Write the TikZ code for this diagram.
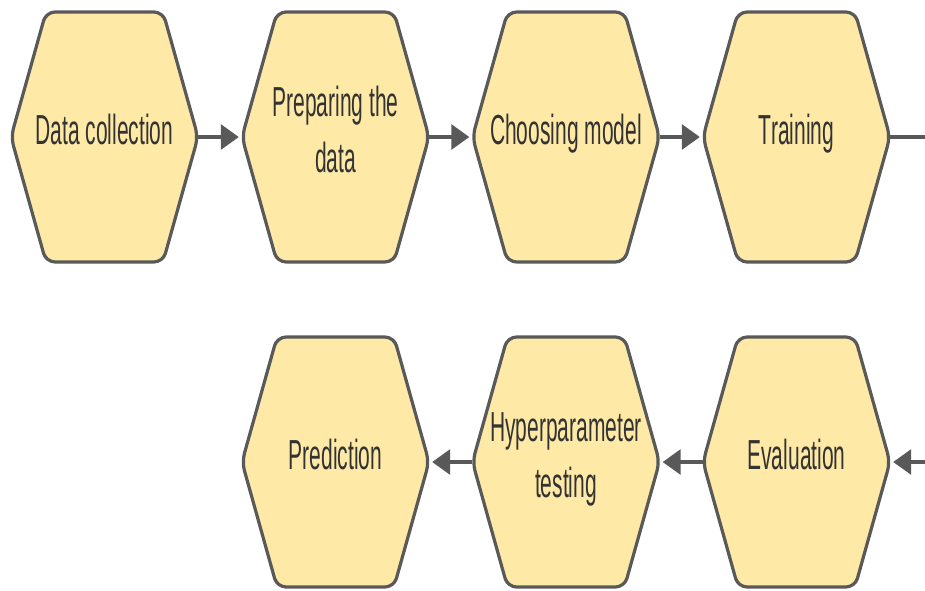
\documentclass[tikz,border=0pt]{standalone}
\usepackage{fontspec}
\setmainfont{Liberation Sans}
\usetikzlibrary{arrows.meta}
\definecolor{hexfill}{HTML}{FEE9A6}
\definecolor{hexline}{HTML}{595959}
\definecolor{txt}{HTML}{333333}
\tikzset{
  hexshape/.style={draw=hexline, fill=hexfill, line width=3.2pt, rounded corners=9pt, line join=round},
  hexanchor/.style={inner sep=0pt, minimum width=187pt, minimum height=250pt},
  hexlabel/.style={text=txt, align=center, font=\fontsize{42}{56}\selectfont},
  flow/.style={draw=hexline, line width=3.2pt, -{Triangle[length=18pt,width=25pt]}},
  plainflow/.style={draw=hexline, line width=3.2pt}
}
% \hexstep{x}{y}{name}{text}: hexagon with pointed left/right ends
\newcommand\hexstep[4]{%
  \path[hexshape] (#1-93.5,#2) -- (#1-58.5,#2-125) -- (#1+58.5,#2-125)
     -- (#1+93.5,#2) -- (#1+58.5,#2+125) -- (#1-58.5,#2+125) -- cycle;
  \node[hexanchor] (#3) at (#1,#2) {};
  \node[hexlabel] (#3-text) at (#1,#2-4) {\scalebox{0.5}[1]{\begin{tabular}{c}#4\end{tabular}}};
}
\begin{document}
\begin{tikzpicture}[x=1pt,y=-1pt]
  \useasboundingbox (0,0) rectangle (925,590);
  % top row, left to right
  \hexstep{104.5}{137}{collect}{Data collection}
  \hexstep{335.5}{137}{prepare}{Preparing the\\data}
  \hexstep{566}{137}{choose}{Choosing model}
  \hexstep{796.5}{137}{train}{Training}
  % bottom row, right to left
  \hexstep{796.5}{462}{evaluate}{Evaluation}
  \hexstep{566}{462}{hyper}{Hyperparameter\\testing}
  \hexstep{335.5}{462}{predict}{Prediction}
  % connectors
  \coordinate (outR) at (925,137);
  \coordinate (inR) at (925,462);
  \draw[flow] (collect.east) -- ([xshift=-3pt]prepare.west);
  \draw[flow] (prepare.east) -- ([xshift=-3pt]choose.west);
  \draw[flow] (choose.east) -- ([xshift=-3pt]train.west);
  \draw[plainflow] (train.east) -- (outR);
  \draw[flow] (inR) -- ([xshift=3pt]evaluate.east);
  \draw[flow] (evaluate.west) -- ([xshift=3pt]hyper.east);
  \draw[flow] (hyper.west) -- ([xshift=3pt]predict.east);
\end{tikzpicture}
\end{document}
